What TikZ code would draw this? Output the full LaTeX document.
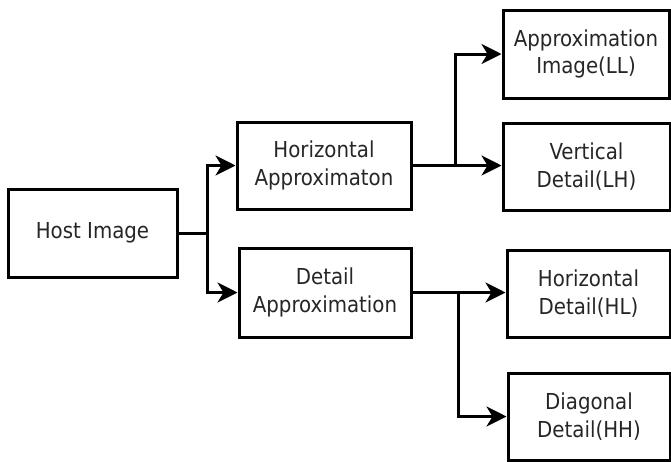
\documentclass[tikz,border=0pt]{standalone}
\usepackage{fontspec}
\setmainfont{DejaVu Sans Condensed}
\usetikzlibrary{arrows.meta}
\begin{document}
\begin{tikzpicture}[x=0.75pt,y=-0.75pt,
  box/.style={draw=black, line width=2.25pt, inner sep=0pt, align=center,
    font=\fontsize{16.5pt}{20.8pt}\selectfont, text=black!85},
  conn/.style={line width=2.25pt},
  arr/.style={conn, -{Stealth[length=15pt,width=15pt,inset=4.5pt]}}]
\useasboundingbox (0,0) rectangle (671,461);
\node[box, minimum width={169*0.75pt}, minimum height={88*0.75pt}] (host) at (92.5,233) {Host Image};
\node[box, minimum width={174*0.75pt}, minimum height={87*0.75pt}] (ha) at (324,165.5) {Horizontal\\Approximaton};
\node[box, minimum width={172*0.75pt}, minimum height={89*0.75pt}] (da) at (325,292.5) {Detail\\Approximation};
\node[box, minimum width={166*0.75pt}, minimum height={88*0.75pt}] (ai) at (586,54) {Approximation\\Image(LL)};
\node[box, minimum width={167*0.75pt}, minimum height={87*0.75pt}] (vd) at (586.5,166.5) {Vertical\\Detail(LH)};
\node[box, minimum width={163*0.75pt}, minimum height={87*0.75pt}] (hd) at (588.5,293.5) {Horizontal\\Detail(HL)};
\node[box, minimum width={162*0.75pt}, minimum height={87*0.75pt}] (dd) at (589,416.5) {Diagonal\\Detail(HH)};
\coordinate (s1) at (207,233);
\coordinate (s2) at (455,165.5);
\coordinate (s3) at (458,292.5);
\draw[conn] (host.east) -- (s1);
\draw[arr] (s1) |- (ha.west);
\draw[arr] (s1) |- (da.west);
\draw[conn] (ha.east) -- (s2);
\draw[arr] (s2) -- (s2 -| vd.west);
\draw[arr] (s2) |- (ai.west);
\draw[conn] (da.east) -- (s3);
\draw[arr] (s3) -- (s3 -| hd.west);
\draw[arr] (s3) |- (dd.west);
\end{tikzpicture}
\end{document}
